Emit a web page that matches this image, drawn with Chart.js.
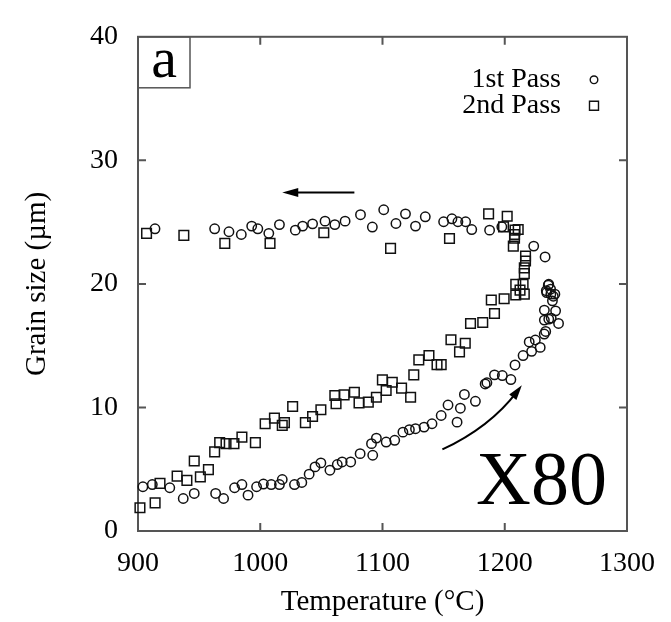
<!DOCTYPE html>
<html>
<head>
<meta charset="utf-8">
<script src="https://cdn.jsdelivr.net/npm/chart.js@4"></script>
<style>
  html, body { margin: 0; padding: 0; background: #fff; }
</style>
</head>
<body>
<canvas id="grainChart" width="671" height="622"></canvas>
<script>
// 1st pass (circles)
const pass1Temp = [
  904, 911.7, 926, 937, 946, 963.5, 970, 979, 985, 990, 997, 1002.6, 1009, 1015.7, 1018, 1028,
  1034, 1040, 1044.8, 1049.6, 1057, 1063, 1067, 1074, 1081.7, 1091, 1092, 1095, 1103, 1110,
  1116.7, 1122, 1127, 1134, 1140.5, 1148, 1153.6, 1161, 1163.7, 1167, 1176, 1184, 1185.4,
  1191.6, 1198, 1205, 1208.4, 1215, 1220, 1222, 1225, 1229, 1232.3, 1233.5, 1232.4, 1232.4,
  1236, 1238, 1244, 1241.6, 1239, 1241, 1234.3, 1236, 1237.5, 1235.6, 1234, 1237.7, 1239.7,
  1233, 1223.7,
  1197.6, 1187.6, 1173, 1168, 1161.7, 1156.8, 1150, 1135, 1127, 1118.8, 1111, 1101, 1091.7,
  1082, 1069.4, 1061, 1053, 1042.8, 1034.7, 1028.7, 1015.7, 1007, 998, 993, 984.5, 974.4,
  962.7, 913.9
];
const pass1Size = [
  3.58, 3.76, 3.5, 2.63, 3.04, 3.04, 2.63, 3.5, 3.76, 2.9, 3.58, 3.8, 3.76, 3.76, 4.17, 3.76,
  3.93, 4.6, 5.19, 5.51, 4.92, 5.38, 5.59, 5.59, 6.26, 7.07, 6.13, 7.52, 7.2, 7.34,
  8.0, 8.2, 8.28, 8.41, 8.68, 9.35, 10.2, 8.81, 9.94, 11.05, 10.5, 11.9, 12.0,
  12.64, 12.58, 12.26, 13.44, 14.2, 15.3, 14.54, 15.46, 14.86, 15.94, 16.15, 17.07, 17.88,
  17.15, 17.23, 16.8, 17.82, 18.63, 19.17, 19.3, 19.97, 19.57, 19.9, 19.45, 19.17, 19.0,
  22.18, 23.06,
  24.62, 24.35, 24.4, 25.03, 25.03, 25.27, 25.03, 25.43, 24.68, 25.67, 24.89, 26.0, 24.6,
  25.6, 25.08, 24.8, 25.08, 24.86, 24.68, 24.35, 24.8, 24.09, 24.46, 24.68, 24.0, 24.22,
  24.46, 24.46
];

// 2nd pass (squares)
const pass2Temp = [
  901.6, 914, 918, 932, 940, 946, 951, 957.6, 962.7, 966.8, 972, 978.5, 985, 996, 1004,
  1011.6, 1018, 1019.8, 1026.5, 1036.9, 1042.8, 1049.6, 1061, 1062, 1068.6, 1077, 1080.8,
  1088.4, 1095, 1099.9, 1103, 1108, 1115.6, 1123, 1125.6, 1129.7, 1138, 1144.6, 1148, 1156,
  1163, 1167.7, 1172, 1182, 1189, 1191.6, 1199.5, 1209, 1209, 1212.5, 1215, 1216, 1216, 1216,
  1217, 1217, 1207, 1208, 1208, 1208.4, 1211, 1202, 1199, 1186.8, 1154.8, 1106.6, 1052,
  1008, 971, 937.5, 907
];
const pass2Size = [
  1.88, 2.28, 3.85, 4.44, 4.1, 5.67, 4.38, 4.97, 6.4, 7.15, 7.07, 7.07, 7.6, 7.15, 8.68,
  9.14, 8.55, 8.77, 10.08, 8.77, 9.27, 9.81, 10.97, 10.3, 11.02, 11.23, 10.37,
  10.43, 10.83, 12.23, 11.37, 12.04, 11.56, 10.83, 12.64, 13.85, 14.2, 13.47, 13.47, 15.48,
  14.5, 15.2, 16.8, 16.88, 18.7, 17.6, 18.8, 19.1, 19.97, 19.5, 19.97, 19.17, 20.83, 21.3,
  21.85, 22.26, 23.06, 23.7, 24.0, 24.35, 24.4, 25.48, 24.62, 25.67, 23.68, 22.88, 24.14,
  23.28, 23.28, 23.93, 24.09
];

const seriesLabels = ["1st Pass", "2nd Pass"];
const xTicks = [900, 1000, 1100, 1200, 1300];
const yTicks = [0, 10, 20, 30, 40];

// arrows in data units: cooling (top) and heating (bottom curve)
const coolArrow = [[1077, 27.4], [1018, 27.4]];
const heatArrow = [[1149, 6.6], [1188, 8.4], [1214, 11.8]];

const serif = "'Liberation Serif', 'Times New Roman', serif";
const ink = "#111";

function toPoints(xs, ys) {
  return xs.map((v, i) => ({ x: v, y: ys[i] }));
}

function arrowHead(ctx, x, y, angle, len, half) {
  ctx.beginPath();
  ctx.moveTo(x, y);
  ctx.lineTo(x - len * Math.cos(angle) + half * Math.sin(angle), y - len * Math.sin(angle) - half * Math.cos(angle));
  ctx.lineTo(x - len * Math.cos(angle) - half * Math.sin(angle), y - len * Math.sin(angle) + half * Math.cos(angle));
  ctx.closePath();
  ctx.fill();
}

const framePlugin = {
  id: "frame",
  beforeDatasetsDraw(chart) {
    const { ctx, chartArea: a, scales: { x, y } } = chart;
    ctx.save();
    ctx.strokeStyle = "#555";
    ctx.lineWidth = 2;
    ctx.strokeRect(a.left, a.top, a.right - a.left, a.bottom - a.top);
    ctx.beginPath();
    xTicks.slice(1, -1).forEach((v) => {
      const px = x.getPixelForValue(v);
      ctx.moveTo(px, a.bottom); ctx.lineTo(px, a.bottom - 8);
      ctx.moveTo(px, a.top); ctx.lineTo(px, a.top + 8);
    });
    yTicks.slice(1, -1).forEach((v) => {
      const py = y.getPixelForValue(v);
      ctx.moveTo(a.left, py); ctx.lineTo(a.left + 8, py);
      ctx.moveTo(a.right, py); ctx.lineTo(a.right - 8, py);
    });
    ctx.stroke();
    ctx.restore();
  },
  afterDatasetsDraw(chart) {
    const { ctx, chartArea: a, scales: { x, y } } = chart;
    ctx.save();

    // panel letter box
    ctx.strokeStyle = "#555";
    ctx.lineWidth = 1.5;
    ctx.strokeRect(a.left, a.top, 52, 51);
    ctx.fillStyle = "#000";
    ctx.font = "58px " + serif;
    ctx.textAlign = "center";
    ctx.textBaseline = "alphabetic";
    ctx.fillText("a", a.left + 26, a.top + 40);

    // X80 label
    ctx.font = "76px " + serif;
    ctx.textAlign = "right";
    ctx.fillText("X80", a.right - 20, a.bottom - 27);

    // legend
    ctx.font = "28px " + serif;
    ctx.textBaseline = "middle";
    ctx.strokeStyle = ink;
    ctx.lineWidth = 1.4;
    const rows = [a.top + 43, a.top + 69];
    seriesLabels.forEach((label, i) => {
      ctx.fillText(label, a.right - 66, rows[i]);
      const mx = a.right - 33;
      ctx.beginPath();
      if (i === 0) ctx.arc(mx, rows[i], 3.8, 0, Math.PI * 2);
      else ctx.rect(mx - 4.5, rows[i] - 4.5, 9, 9);
      ctx.stroke();
    });

    // arrows
    ctx.strokeStyle = "#000";
    ctx.fillStyle = "#000";
    ctx.lineWidth = 2;
    const c0 = coolArrow.map(([t, g]) => [x.getPixelForValue(t), y.getPixelForValue(g)]);
    ctx.beginPath();
    ctx.moveTo(c0[0][0], c0[0][1]);
    ctx.lineTo(c0[1][0] + 10, c0[1][1]);
    ctx.stroke();
    arrowHead(ctx, c0[1][0], c0[1][1], Math.PI, 16, 4.5);

    const h = heatArrow.map(([t, g]) => [x.getPixelForValue(t), y.getPixelForValue(g)]);
    const ang = Math.atan2(h[2][1] - h[1][1], h[2][0] - h[1][0]);
    ctx.beginPath();
    ctx.moveTo(h[0][0], h[0][1]);
    ctx.quadraticCurveTo(h[1][0], h[1][1], h[2][0] - 8 * Math.cos(ang), h[2][1] - 8 * Math.sin(ang));
    ctx.stroke();
    arrowHead(ctx, h[2][0], h[2][1], ang, 15, 4.5);

    ctx.restore();
  }
};

const pointBase = {
  showLine: false,
  backgroundColor: "rgba(0,0,0,0)",
  borderColor: ink,
  borderWidth: 1.5,
  clip: false
};

new Chart(document.getElementById("grainChart"), {
  type: "scatter",
  data: {
    datasets: [
      Object.assign({}, pointBase, {
        label: seriesLabels[0],
        data: toPoints(pass1Temp, pass1Size),
        pointStyle: "circle",
        pointRadius: 4.7,
        pointHoverRadius: 4.7
      }),
      Object.assign({}, pointBase, {
        label: seriesLabels[1],
        data: toPoints(pass2Temp, pass2Size),
        pointStyle: "rect",
        pointRadius: 6.8,
        pointHoverRadius: 6.8
      })
    ]
  },
  options: {
    responsive: false,
    animation: false,
    layout: { padding: { top: 35, right: 42, left: 0, bottom: 0 } },
    plugins: {
      legend: { display: false },
      tooltip: { enabled: false }
    },
    scales: {
      x: {
        type: "linear",
        min: 900,
        max: 1300,
        afterBuildTicks: (scale) => { scale.ticks = xTicks.map((v) => ({ value: v })); },
        afterFit: (scale) => { scale.height = 91; },
        grid: { display: false, drawTicks: false },
        border: { display: false },
        ticks: {
          color: "#000",
          font: { family: serif, size: 28 },
          padding: 16,
          maxRotation: 0,
          callback: (v) => String(v)
        },
        title: {
          display: true,
          text: "Temperature (°C)",
          color: "#000",
          font: { family: serif, size: 29 },
          padding: { top: 0, bottom: 2 }
        }
      },
      y: {
        type: "linear",
        min: 0,
        max: 40,
        afterBuildTicks: (scale) => { scale.ticks = yTicks.map((v) => ({ value: v })); },
        afterFit: (scale) => { scale.width = 138; },
        grid: { display: false, drawTicks: false },
        border: { display: false },
        ticks: { color: "#000", font: { family: serif, size: 28 }, padding: 20, callback: (v) => String(v) },
        title: {
          display: true,
          text: "Grain size (µm)",
          color: "#000",
          font: { family: serif, size: 29 },
          padding: { top: 20, bottom: 0 }
        }
      }
    }
  },
  plugins: [framePlugin]
});
</script>
</body>
</html>
